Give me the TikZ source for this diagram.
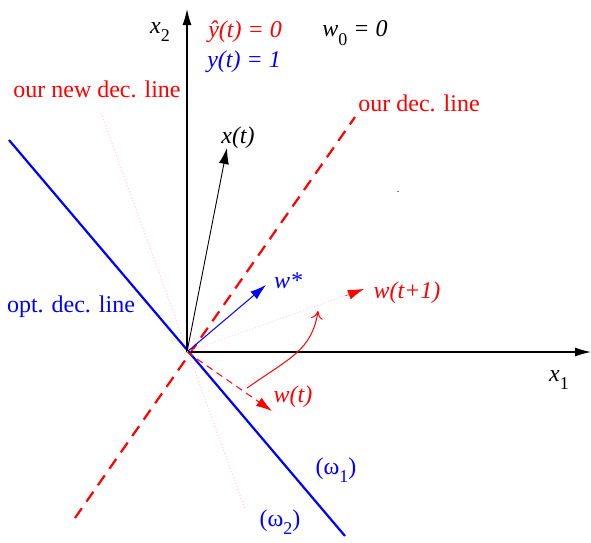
\documentclass[tikz,border=0pt]{standalone}
\usepackage{fontspec}
\setmainfont{Liberation Serif}
\usetikzlibrary{arrows.meta}
\definecolor{myred}{RGB}{255,0,0}
\definecolor{myblue}{RGB}{0,0,255}
\definecolor{faint}{RGB}{255,215,215}
\newcommand{\sbs}[1]{\raisebox{-0.35em}{\fontsize{18}{20}\selectfont\upshape #1}}
\tikzset{
  lbl/.style={inner sep=0pt, font=\fontsize{24}{28}\selectfont},
  ilbl/.style={inner sep=0pt, font=\fontsize{24}{28}\selectfont\itshape},
  axis/.style={line width=1.2pt, -{Latex[length=16pt,width=9pt]}},
  vec/.style={line width=1pt, -{Latex[length=16pt,width=10pt]}},
  decline/.style={line width=2.2pt},
}
\begin{document}
\begin{tikzpicture}[x=1pt,y=-1pt]
\useasboundingbox (0,0) rectangle (591,542);
\coordinate (O) at (187,352);
\coordinate (X1) at (591,352);
\coordinate (X2) at (187,9);
% decision lines
\coordinate (ND1) at (101,113);
\coordinate (ND2) at (245,509);
\draw[faint, line width=1.2pt, dotted] (ND1) -- (ND2);
\coordinate (OD1) at (9,140);
\coordinate (OD2) at (345,536);
\draw[decline, myblue] (OD1) -- (OD2);
\coordinate (RD1) at (75,518);
\coordinate (RD2) at (355,117);
\draw[decline, myred, dash pattern=on 12pt off 8pt] (RD1) -- (RD2);
% axes
\draw[axis] (O) -- (X1);
\draw[axis] (O) -- (X2);
% vectors
\coordinate (XT) at (227,148);
\draw[vec, black, line width=0.9pt] (O) -- (XT);
\coordinate (WS) at (266,285);
\draw[vec, myblue, line width=1pt] (O) -- (WS);
\coordinate (WT) at (272,411);
\draw[vec, myred, line width=1pt, dash pattern=on 7pt off 5pt] (O) -- (WT);
\coordinate (WT1) at (364,289);
\draw[faint, line width=1pt, dotted] (O) -- (WT1);
\coordinate (WT1b) at (345,296);
\draw[myred, -{Latex[length=16pt,width=10pt]}] (WT1b) -- (WT1);
% update curve
\coordinate (C1) at (247,388);
\coordinate (C2) at (318,311);
\draw[myred, line width=1pt, -{To[length=8pt,width=12pt]}] (C1) .. controls (290,358) and (312,350) .. (C2);
% tiny dot
\fill[gray] (396.5,190.5) rectangle (398.5,192);
% labels
\node[lbl, myred] (Lnew) at (97,89) {our new dec. line};
\node[lbl, myred] (Lour) at (419,103) {our dec. line};
\node[lbl, myblue] (Lopt) at (71,307) {opt. dec. line};
\node[ilbl] (Lx2) at (160,32) {x\sbs{2}};
\node[ilbl] (Lx1) at (559,380) {x\sbs{1}};
\node[ilbl, myred] (Lyhat) at (245,32) {\^{y}(t) = 0};
\node[ilbl, myblue] (Ly) at (244,62) {y(t) = 1};
\node[ilbl] (Lw0) at (355,33) {w\sbs{0} = 0};
\node[ilbl] (Lxt) at (238,138) {x(t)};
\node[ilbl, myblue] (Lws) at (288,281) {w*};
\node[ilbl, myred] (Lwt1) at (407,293) {w(t+1)};
\node[ilbl, myred] (Lwt) at (293,397) {w(t)};
\node[lbl, myblue] (Lo1) at (336,470) {(ω\sbs{1})};
\node[lbl, myblue] (Lo2) at (280,522) {(ω\sbs{2})};
\end{tikzpicture}
\end{document}
